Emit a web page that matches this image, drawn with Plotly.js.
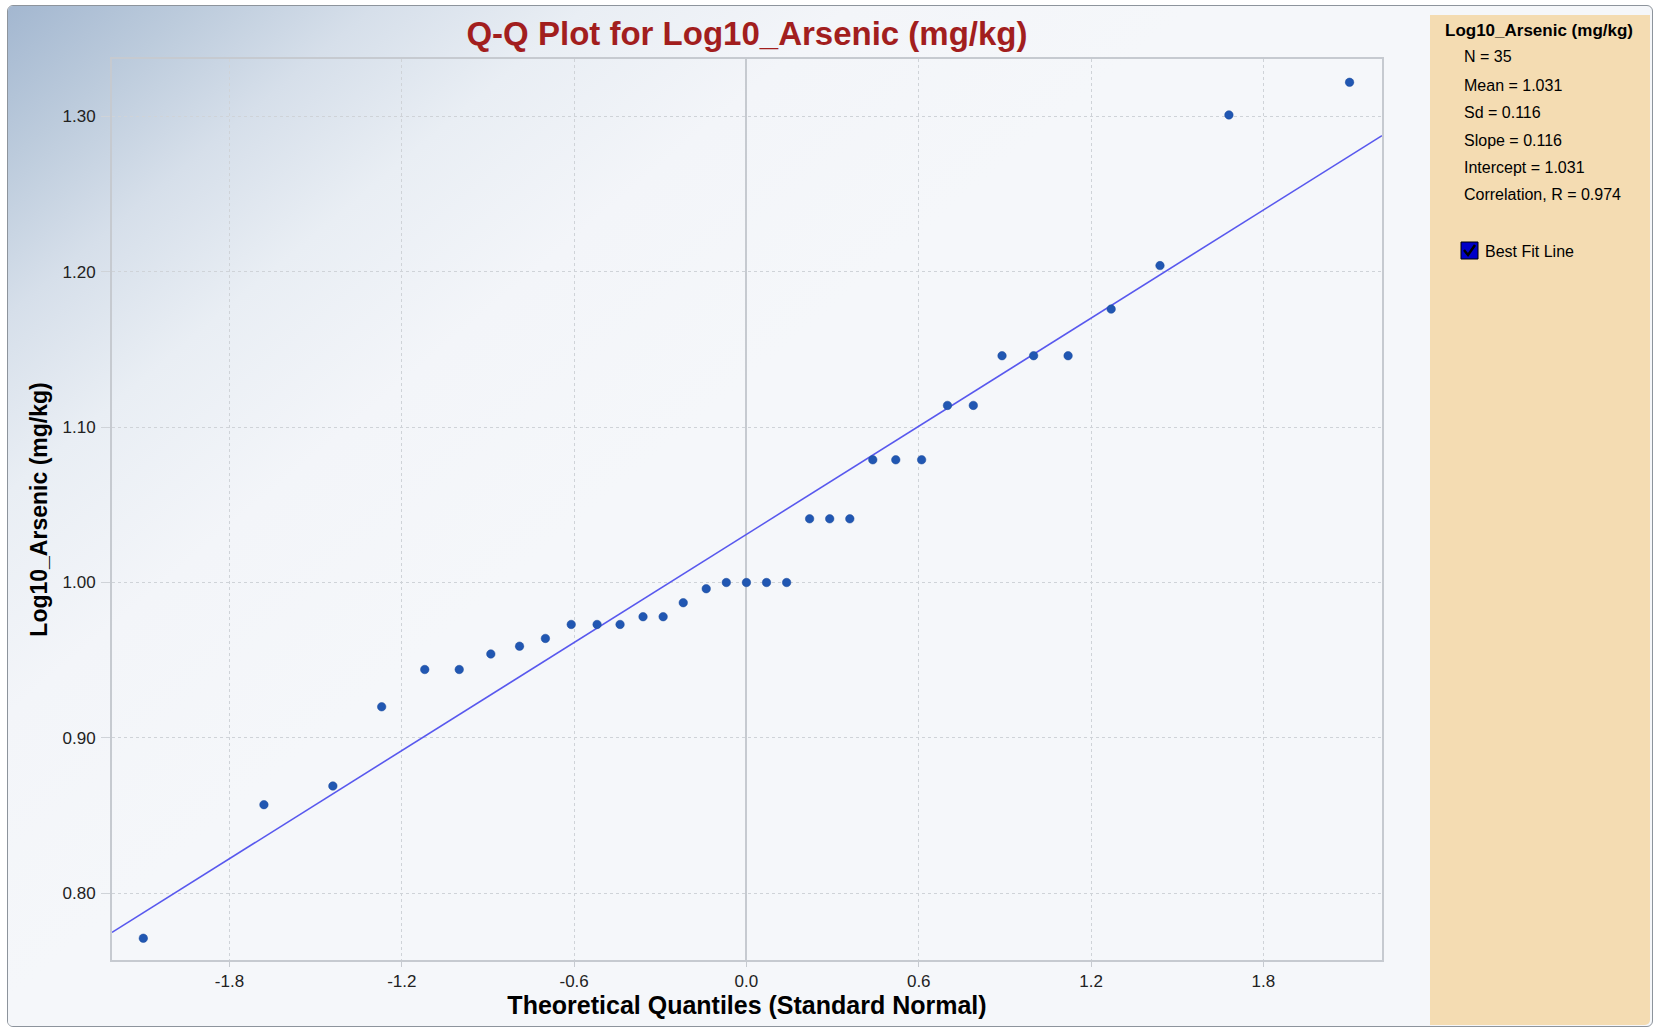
<!DOCTYPE html>
<html>
<head>
<meta charset="utf-8">
<script src="https://cdn.plot.ly/plotly-3.0.1.min.js"></script>
<style>
  html, body { margin: 0; padding: 0; background: #ffffff; }
  #wrap { position: relative; width: 1656px; height: 1031px; overflow: hidden; }
  #frame { position: absolute; left: 7px; top: 5px; width: 1644px; height: 1020px;
           border: 1px solid #8d949c; border-radius: 6px; background: #f5f7fa; }
  #grad { position: absolute; left: 8px; top: 6px; width: 1421px; height: 1020px; border-radius: 5px 0 0 5px;
          background: linear-gradient(140deg, #a3b7d0 0%, #bccbdc 7%, #d6dfea 14%, #e9eef4 22%, #f3f5f9 32%, #f5f7fa 45%, #f5f7fa 100%); }
  #panel { position: absolute; left: 1430px; top: 15px; width: 220px; height: 1010px;
           background: #f4dcb2; border-radius: 0 0 5px 0; }
  #plot { position: absolute; left: 0; top: 0; width: 1656px; height: 1031px; }
</style>
</head>
<body>
<div id="wrap">
  <div id="frame"></div>
  <div id="grad"></div>
  <div id="panel"></div>
  <div id="plot"></div>
</div>
<script>
// Theoretical quantiles (standard normal)
const theoreticalQuantiles = [
  -2.10, -1.68, -1.44, -1.27, -1.12, -1.00, -0.89, -0.79, -0.70, -0.61,
  -0.52, -0.44, -0.36, -0.29, -0.22, -0.14, -0.07, 0.00, 0.07, 0.14,
  0.22, 0.29, 0.36, 0.44, 0.52, 0.61, 0.70, 0.79, 0.89, 1.00,
  1.12, 1.27, 1.44, 1.68, 2.10
];
const log10Arsenic = [
  0.771, 0.857, 0.869, 0.920, 0.944, 0.944, 0.954, 0.959, 0.964, 0.973,
  0.973, 0.973, 0.978, 0.978, 0.987, 0.996, 1.000, 1.000, 1.000, 1.000,
  1.041, 1.041, 1.041, 1.079, 1.079, 1.079, 1.114, 1.114, 1.146, 1.146,
  1.146, 1.176, 1.204, 1.301, 1.322
];
// Best-fit line parameters (from the stats panel)
const fitSlope = 0.116;
const fitIntercept = 1.031;
const xRange = [-2.209, 2.213];
const yRange = [0.757, 1.337];

// Tick labels
const xTickVals = [-1.8, -1.2, -0.6, 0.0, 0.6, 1.2, 1.8];
const xTickText = ["-1.8", "-1.2", "-0.6", "0.0", "0.6", "1.2", "1.8"];
const yTickVals = [0.80, 0.90, 1.00, 1.10, 1.20, 1.30];
const yTickText = ["0.80", "0.90", "1.00", "1.10", "1.20", "1.30"];

// Stats panel
const panelTitle = "Log10_Arsenic (mg/kg)";
const statLabels = ["N", "Mean", "Sd", "Slope", "Intercept", "Correlation, R"];
const statValues = ["35", "1.031", "0.116", "0.116", "1.031", "0.974"];
const checkboxLabel = "Best Fit Line";

// layout geometry (pixels)
const W = 1656, H = 1031;
const M = { l: 112, r: 274, t: 59, b: 71 };
const PW = W - M.l - M.r, PH = H - M.t - M.b;
const px = x => (x - M.l) / PW;
const py = y => (H - M.b - y) / PH;

const FONT = "Liberation Sans, Arial, sans-serif";

const fitX = xRange.slice();
const fitY = fitX.map(x => fitIntercept + fitSlope * x);

const traces = [
  {
    x: fitX, y: fitY, type: "scatter", mode: "lines",
    line: { color: "#5858ee", width: 1.6 }, hoverinfo: "skip", showlegend: false
  },
  {
    x: theoreticalQuantiles, y: log10Arsenic, type: "scatter", mode: "markers",
    marker: { color: "#2157b2", size: 8.5, line: { color: "#1a4a9c", width: 0.5 } },
    showlegend: false
  }
];

const annotations = [];
annotations.push({
  xref: "paper", yref: "paper", x: px(1443), y: py(30), xanchor: "left", yanchor: "middle",
  text: "<b>" + panelTitle + "</b>", showarrow: false,
  font: { family: FONT, size: 17, color: "#000000" }
});
const statY = [57, 85, 112, 140, 167, 195];
statLabels.forEach((lab, i) => {
  annotations.push({
    xref: "paper", yref: "paper", x: px(1462), y: py(statY[i]), xanchor: "left", yanchor: "middle",
    text: lab + " = " + statValues[i], showarrow: false,
    font: { family: FONT, size: 16, color: "#000000" }
  });
});
annotations.push({
  xref: "paper", yref: "paper", x: px(1483), y: py(251), xanchor: "left", yanchor: "middle",
  text: checkboxLabel, showarrow: false,
  font: { family: FONT, size: 16, color: "#000000" }
});

const shapes = [
  {
    type: "rect", xref: "paper", yref: "paper",
    x0: px(1461), x1: px(1478), y0: py(259), y1: py(242),
    fillcolor: "#0000c8", line: { color: "#000000", width: 1 }, layer: "above"
  },
  {
    type: "path", xref: "paper", yref: "paper",
    path: "M " + px(1464) + " " + py(250) + " L " + px(1468) + " " + py(255) +
          " L " + px(1475) + " " + py(245),
    line: { color: "#000000", width: 2.5 }, layer: "above"
  }
];

const layout = {
  width: W, height: H,
  margin: M,
  paper_bgcolor: "rgba(0,0,0,0)",
  plot_bgcolor: "rgba(0,0,0,0)",
  showlegend: false,
  title: {
    text: "Q-Q Plot for Log10_Arsenic (mg/kg)",
    font: { family: FONT, size: 33, color: "#a21e1e", weight: "bold" },
    x: 0.5, xref: "paper", xanchor: "center",
    y: 1 - 33 / H, yref: "container", yanchor: "middle"
  },
  xaxis: {
    range: xRange, autorange: false,
    tickmode: "array", tickvals: xTickVals, ticktext: xTickText,
    tickfont: { family: FONT, size: 17, color: "#222222" },
    ticks: "outside", ticklen: 5, tickcolor: "#c6cad0", tickwidth: 1,
    ticklabelstandoff: 0,
    showgrid: true, gridcolor: "#cfd3d8", griddash: "dot", gridwidth: 1,
    zeroline: true, zerolinecolor: "#c6cad0", zerolinewidth: 2,
    showline: true, linecolor: "#c6cad0", linewidth: 2, mirror: true,
    automargin: false,
    title: {
      text: "Theoretical Quantiles (Standard Normal)",
      font: { family: FONT, size: 25, color: "#000000", weight: "bold" },
      standoff: 0
    }
  },
  yaxis: {
    range: yRange, autorange: false,
    tickmode: "array", tickvals: yTickVals, ticktext: yTickText,
    tickfont: { family: FONT, size: 17, color: "#222222" },
    ticks: "outside", ticklen: 9, tickcolor: "#cfd3d8", tickwidth: 1,
    ticklabelstandoff: 2,
    showgrid: true, gridcolor: "#cfd3d8", griddash: "dot", gridwidth: 1,
    zeroline: false,
    showline: true, linecolor: "#c6cad0", linewidth: 2, mirror: true,
    automargin: false,
    title: {
      text: "Log10_Arsenic (mg/kg)",
      font: { family: FONT, size: 23, color: "#000000", weight: "bold" },
      standoff: 8
    }
  },
  annotations: annotations,
  shapes: shapes
};

Plotly.newPlot("plot", traces, layout, { displayModeBar: false, staticPlot: true });
</script>
</body>
</html>
